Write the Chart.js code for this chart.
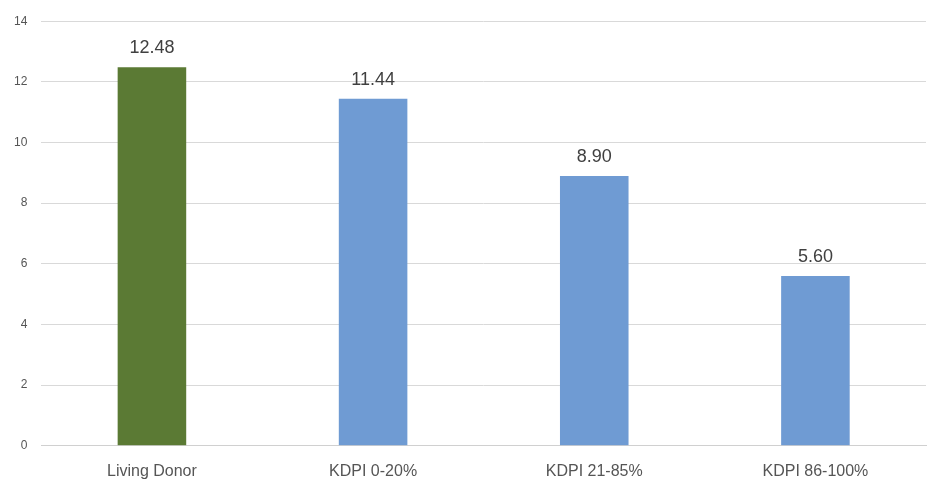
<!DOCTYPE html>
<html>
<head>
<meta charset="UTF-8">
<style>
  body { margin: 0; background: #fff; }
  #wrap { width: 932px; height: 493px; }
</style>
<script src="https://cdn.jsdelivr.net/npm/chart.js"></script>
</head>
<body>
<div id="wrap"><canvas id="c"></canvas></div>
<script>
const categories = ['Living Donor', 'KDPI 0-20%', 'KDPI 21-85%', 'KDPI 86-100%'];
const values = [12.48, 11.44, 8.90, 5.60];
const barColors = ['#5b7a34', '#6f9bd3', '#6f9bd3', '#6f9bd3'];

// write the value above each bar
const valueLabels = {
    id: 'valueLabels',
    afterDatasetsDraw(chart) {
        const ctx = chart.ctx;
        const meta = chart.getDatasetMeta(0);
        ctx.save();
        ctx.font = '18px "Liberation Sans", Arial, sans-serif';
        ctx.fillStyle = '#404040';
        ctx.textAlign = 'center';
        ctx.textBaseline = 'bottom';
        meta.data.forEach((bar, i) => {
            ctx.fillText(values[i].toFixed(2), bar.x, bar.y - 10);
        });
        ctx.restore();
    }
};

new Chart(document.getElementById('c'), {
    type: 'bar',
    data: {
        labels: categories,
        datasets: [{
            data: values,
            backgroundColor: barColors,
            barPercentage: 0.62,
            categoryPercentage: 0.5
        }]
    },
    options: {
        responsive: true,
        maintainAspectRatio: false,
        animation: false,
        layout: { padding: { top: -3, right: 6, left: 0, bottom: 4 } },
        plugins: { legend: { display: false }, tooltip: { enabled: false } },
        scales: {
            x: {
                grid: { display: false },
                border: { color: '#d0d0d0' },
                ticks: { color: '#555', font: { size: 16, family: '"Liberation Sans", Arial' }, padding: 8 }
            },
            y: {
                min: 0, max: 14,
                ticks: { stepSize: 2, color: '#555', font: { size: 12, family: '"Liberation Sans", Arial' }, padding: 14 },
                grid: { color: '#d9d9d9', drawTicks: false },
                border: { display: false }
            }
        }
    },
    plugins: [valueLabels]
});
</script>
</body>
</html>
